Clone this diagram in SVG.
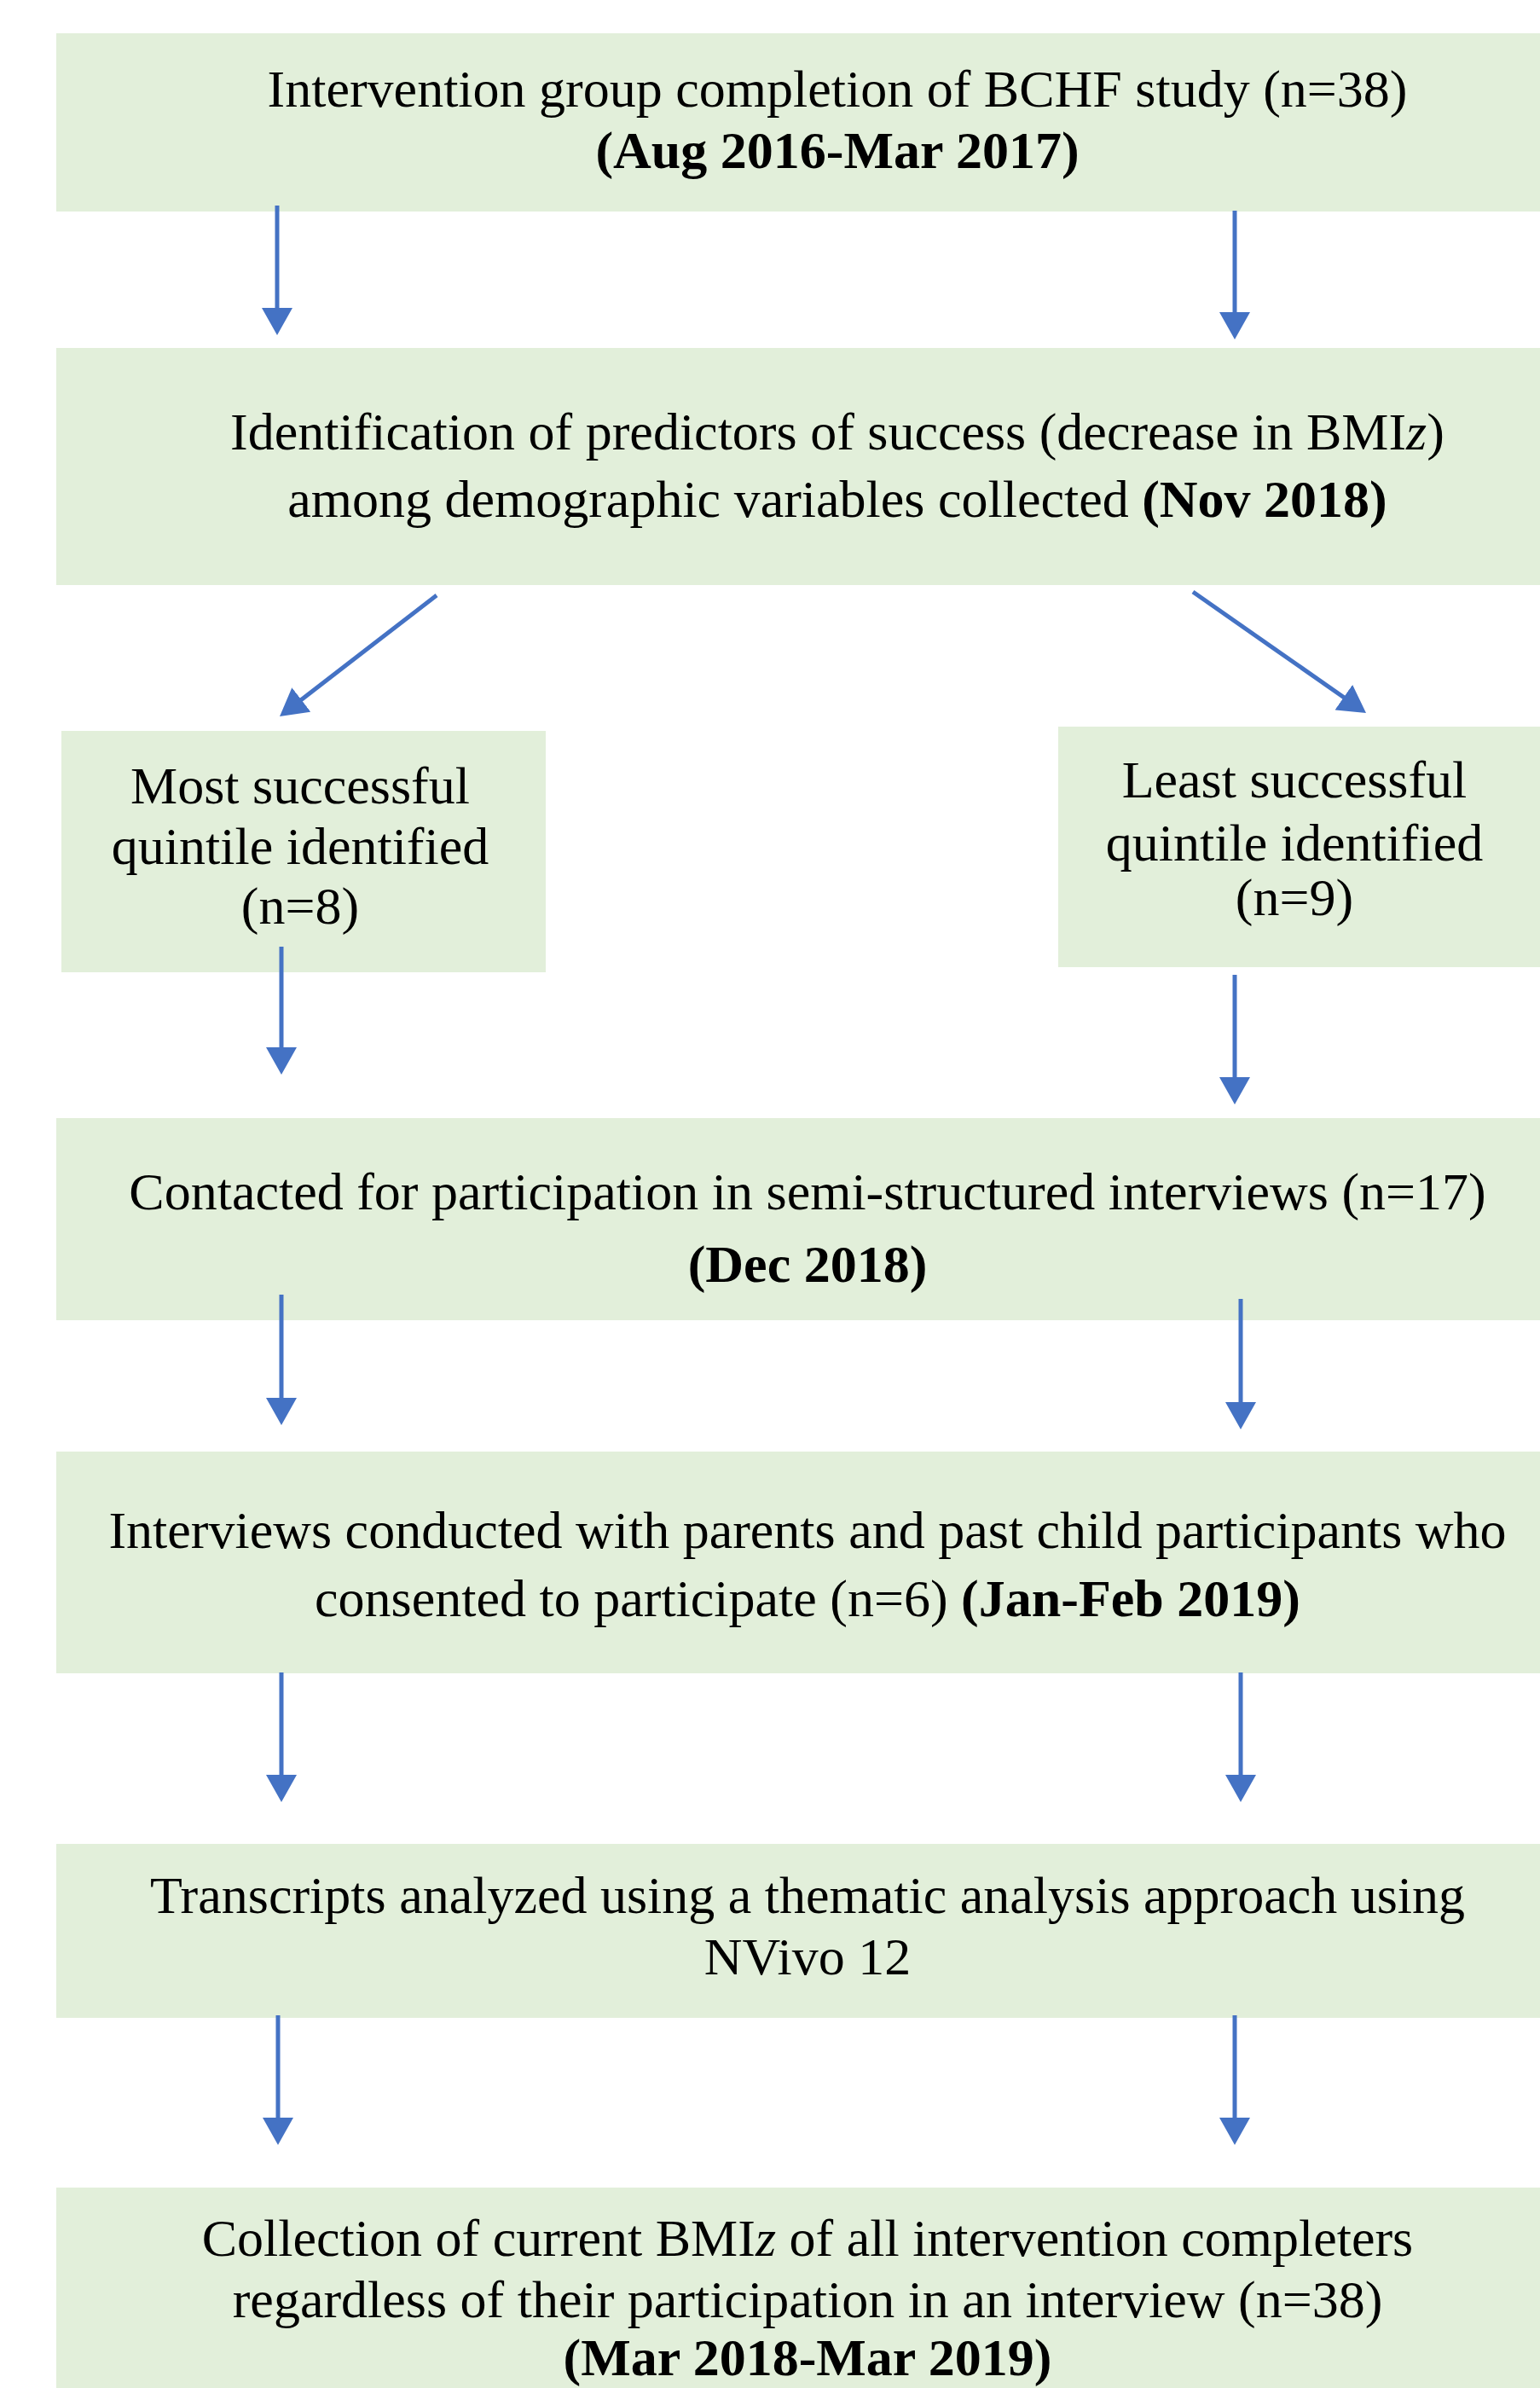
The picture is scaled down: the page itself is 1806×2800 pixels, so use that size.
<svg xmlns="http://www.w3.org/2000/svg" width="1806" height="2800" viewBox="0 0 1806 2800">
<style>
.box{fill:#E2EFDA;}
.t{font-family:"Liberation Serif","Times New Roman",serif;font-size:62px;fill:#000;text-anchor:middle;}
.b{font-weight:bold;}
.i{font-style:italic;}
.arr{stroke:#4472C4;stroke-width:5;fill:none;marker-end:url(#ah);}
</style>
<defs>
<marker id="ah" markerUnits="userSpaceOnUse" viewBox="0 0 32 36" markerWidth="32" markerHeight="36" refX="16" refY="18" orient="auto">
<path d="M0,0 L32,18 L0,36 Z" fill="#4472C4"/>
</marker>
</defs>
<rect width="1806" height="2800" fill="#fff"/>
<g id="n1">
<rect class="box" x="66" y="39" width="1740" height="209"/>
<text class="t" x="982" y="125">Intervention group completion of BCHF study (n=38)</text>
<text class="t b" x="982" y="197">(Aug 2016-Mar 2017)</text>
</g>
<g id="n2">
<rect class="box" x="66" y="408" width="1740" height="278"/>
<text class="t" x="982" y="527">Identification of predictors of success (decrease in BMI<tspan class="i">z</tspan>)</text>
<text class="t" x="982" y="606">among demographic variables collected <tspan class="b">(Nov 2018)</tspan></text>
</g>
<g id="n3">
<rect class="box" x="72" y="857" width="568" height="283"/>
<text class="t" x="352" y="942">Most successful</text>
<text class="t" x="352" y="1013">quintile identified</text>
<text class="t" x="352" y="1083">(n=8)</text>
</g>
<g id="n4">
<rect class="box" x="1241" y="852" width="565" height="282"/>
<text class="t" x="1518" y="935">Least successful</text>
<text class="t" x="1518" y="1009">quintile identified</text>
<text class="t" x="1518" y="1073">(n=9)</text>
</g>
<g id="n5">
<rect class="box" x="66" y="1311" width="1740" height="237"/>
<text class="t" x="947" y="1418">Contacted for participation in semi-structured interviews (n=17)</text>
<text class="t b" x="947" y="1503">(Dec 2018)</text>
</g>
<g id="n6">
<rect class="box" x="66" y="1702" width="1740" height="260"/>
<text class="t" x="947" y="1815">Interviews conducted with parents and past child participants who</text>
<text class="t" x="947" y="1895">consented to participate (n=6) <tspan class="b">(Jan-Feb 2019)</tspan></text>
</g>
<g id="n7">
<rect class="box" x="66" y="2162" width="1740" height="204"/>
<text class="t" x="947" y="2243">Transcripts analyzed using a thematic analysis approach using</text>
<text class="t" x="947" y="2315">NVivo 12</text>
</g>
<g id="n8">
<rect class="box" x="66" y="2565" width="1740" height="235"/>
<text class="t" x="947" y="2645">Collection of current BMI<tspan class="i">z</tspan> of all intervention completers</text>
<text class="t" x="947" y="2717">regardless of their participation in an interview (n=38)</text>
<text class="t b" x="947" y="2785">(Mar 2018-Mar 2019)</text>
</g>
<g id="connectors">
<line class="arr" x1="325" y1="241" x2="325" y2="377"/>
<line class="arr" x1="1448" y1="247" x2="1448" y2="382"/>
<line class="arr" x1="512" y1="698" x2="340.7" y2="830.2"/>
<line class="arr" x1="1399" y1="694" x2="1588.9" y2="826.8"/>
<line class="arr" x1="330" y1="1110" x2="330" y2="1244"/>
<line class="arr" x1="1448" y1="1143" x2="1448" y2="1279"/>
<line class="arr" x1="330" y1="1518" x2="330" y2="1655"/>
<line class="arr" x1="1455" y1="1523" x2="1455" y2="1660"/>
<line class="arr" x1="330" y1="1961" x2="330" y2="2097"/>
<line class="arr" x1="1455" y1="1961" x2="1455" y2="2097"/>
<line class="arr" x1="326" y1="2363" x2="326" y2="2499"/>
<line class="arr" x1="1448" y1="2363" x2="1448" y2="2499"/>
</g>
</svg>
